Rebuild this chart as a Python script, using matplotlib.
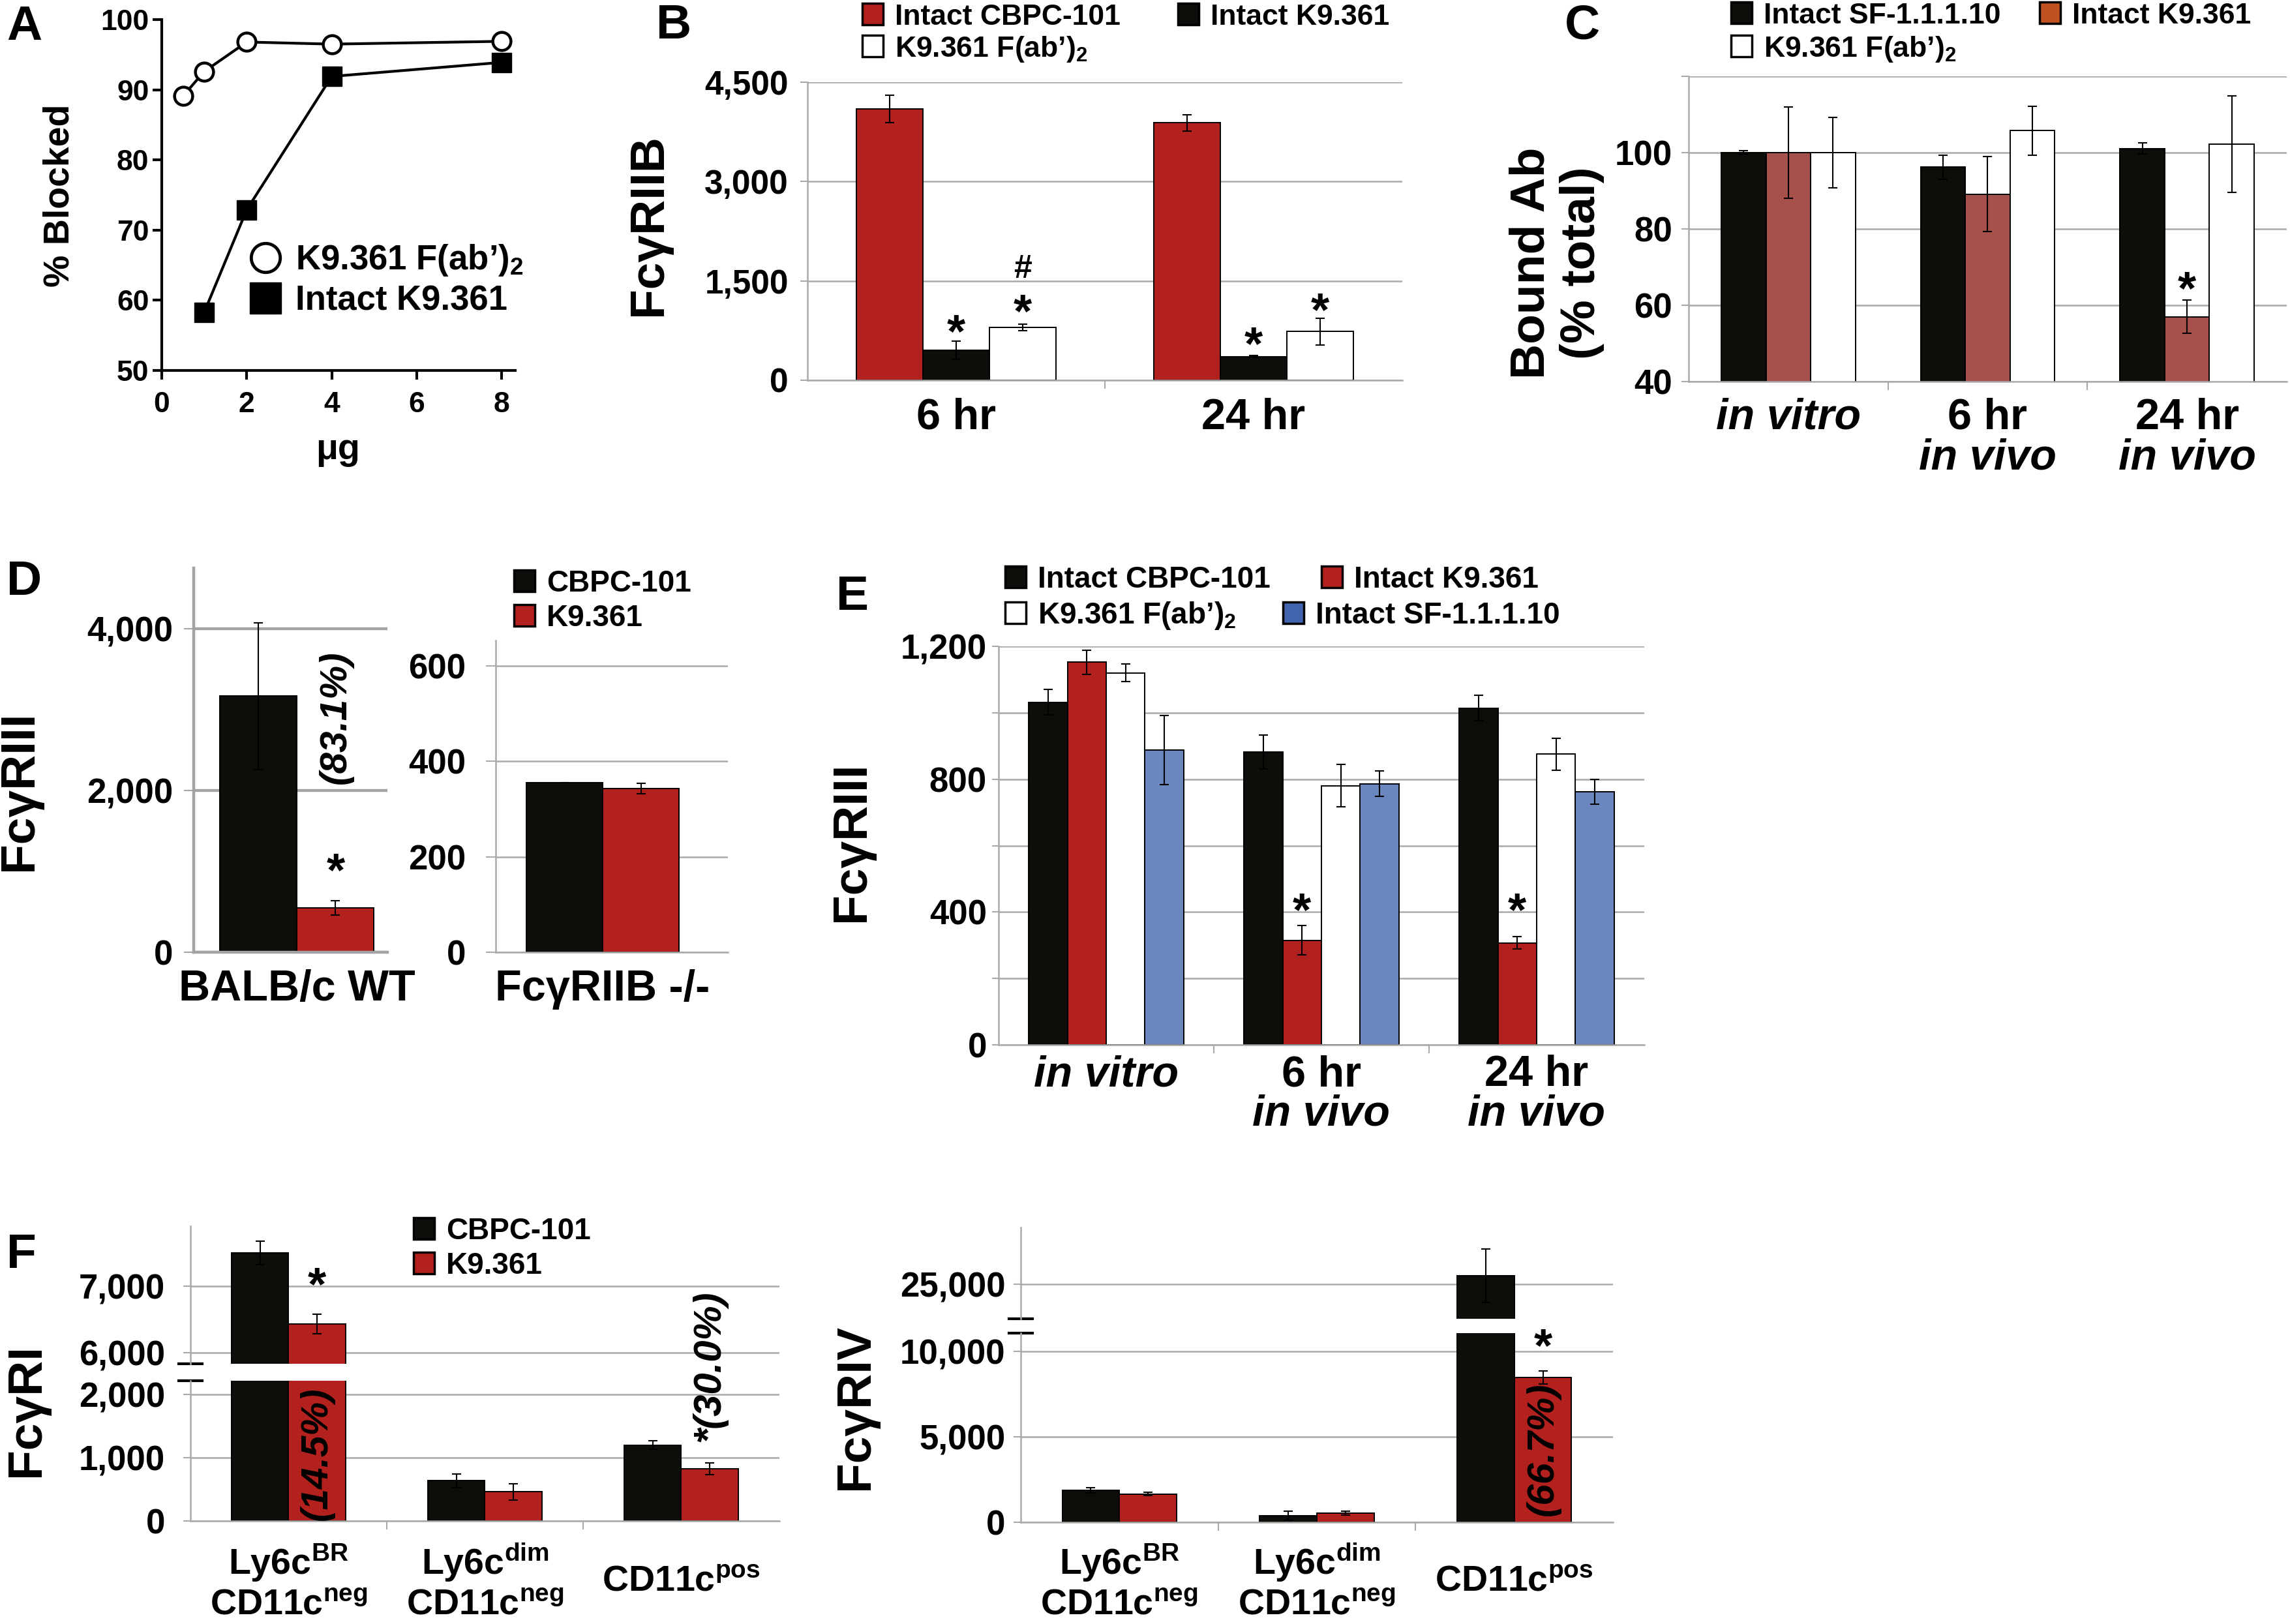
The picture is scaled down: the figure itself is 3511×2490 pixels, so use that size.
import numpy as np
import matplotlib
matplotlib.use('Agg')
import matplotlib.pyplot as plt
from matplotlib.patches import Rectangle
from matplotlib.lines import Line2D
from matplotlib import transforms

W, H = 3512, 2490

plt.rcParams['font.family'] = ['Liberation Sans', 'DejaVu Sans']
plt.rcParams['font.weight'] = 'bold'
plt.rcParams['mathtext.fontset'] = 'custom'
plt.rcParams['mathtext.rm'] = 'Liberation Sans:bold'
plt.rcParams['mathtext.bf'] = 'Liberation Sans:bold'
plt.rcParams['mathtext.it'] = 'Liberation Sans:bold:italic'

RED = '#B2211D'
BLK = '#0D0D0A'
WHT = '#FFFFFF'
BLUE = '#6C86C0'
BRN = '#A6514C'
GRID = '#A9A9A9'

FAB = 'K9.361 F(ab\u2019)$_{\\mathbf{2}}$'

# ---- A: % blocked vs amount
a_x_fab = [0.5, 1, 2, 4, 8]
a_y_fab = [89.1, 92.6, 96.8, 96.5, 96.9]
a_x_int = [1, 2, 4, 8]
a_y_int = [58.3, 72.9, 91.9, 93.9]

# ---- B: FcgRIIB
b_cats = ['6 hr', '24 hr']
b_cbpc = [4095, 3886]
b_cbpc_err = [210, 120]
b_k9 = [451, 358]
b_k9_err = [140, 15]
b_fab = [800, 735]
b_fab_err = [50, 205]

# ---- C: bound Ab (% total)
c_line1 = ['in vitro', '6 hr', '24 hr']
c_line2 = ['', 'in vivo', 'in vivo']
c_sf = [100, 96.2, 101.1]
c_sf_err = [0.5, 3.2, 1.5]
c_k9 = [100, 89.1, 57.0]
c_k9_err = [12, 9.8, 4.3]
c_fab = [100, 105.8, 102.2]
c_fab_err = [9.3, 6.4, 12.7]

# ---- D: FcgRIII, WT vs FcgRIIB-/-
d_cats = ['BALB/c WT', 'Fc\u03b3RIIB -/-']
d_cbpc = [3165, 355]
d_cbpc_err = [905, 0]
d_k9 = [547, 343]
d_k9_err = [86, 11]

# ---- E: FcgRIII
e_line1 = ['in vitro', '6 hr', '24 hr']
e_line2 = ['', 'in vivo', 'in vivo']
e_cbpc = [1032, 881, 1014]
e_cbpc_err = [39, 51, 38]
e_k9 = [1152, 315, 307]
e_k9_err = [36, 44, 19]
e_fab = [1120, 780, 875]
e_fab_err = [27, 64, 49]
e_sf = [887, 786, 762]
e_sf_err = [104, 38, 38]

# ---- F: FcgRI and FcgRIV
f_line1 = ['Ly6c$^{\\mathbf{BR}}$', 'Ly6c$^{\\mathbf{dim}}$', 'CD11c$^{\\mathbf{pos}}$']
f_line2 = ['CD11c$^{\\mathbf{neg}}$', 'CD11c$^{\\mathbf{neg}}$', '']
f1_cbpc = [7492, 636, 1197]
f1_cbpc_err = [175, 110, 66]
f1_k9 = [6429, 461, 825]
f1_k9_err = [150, 130, 90]
f4_cbpc = [1873, 375, 25489]
f4_cbpc_err = [160, 275, 1560]
f4_k9 = [1661, 537, 8469]
f4_k9_err = [80, 120, 375]

fig = plt.figure(figsize=(W / 100, H / 100), dpi=100)


def box(l, t, r, b):
    ax = fig.add_axes([l / W, 1 - b / H, (r - l) / W, (b - t) / H])
    ax.set_facecolor('none')
    return ax


def ftxt(x, y, s, **kw):
    return fig.text(x / W, 1 - y / H, s, **kw)


def excel(ax, ticks, labels, fs=38, pad=12, tlen=8, glw=1.8, gcol=GRID):
    ax.set_yticks(ticks)
    ax.set_yticklabels(labels)
    ax.tick_params(axis='y', labelsize=fs, pad=pad, length=tlen, width=1.5, color=gcol)
    ax.yaxis.grid(True, color=gcol, lw=glw)
    ax.set_axisbelow(True)
    for s in ('top', 'right'):
        ax.spines[s].set_visible(False)
    for s in ('left', 'bottom'):
        ax.spines[s].set_color(gcol)
        ax.spines[s].set_linewidth(glw)


def seps(ax, n):
    ax.set_xlim(-0.5, n - 0.5)
    ax.set_xticks(np.arange(0.5, n - 1, 1.0))
    ax.tick_params(axis='x', length=9, width=1.5, color=GRID, labelbottom=False)


def bars(ax, series, errs, colors, width, x=None):
    n = len(series)
    x = np.arange(len(series[0])) if x is None else np.asarray(x, float)
    for i, (v, e, c) in enumerate(zip(series, errs, colors)):
        xs = x + (i - (n - 1) / 2) * width
        ax.bar(xs, v, width, color=c, edgecolor='black', linewidth=1.4, zorder=2)
        ax.errorbar(xs, v, yerr=e, fmt='none', ecolor='black', elinewidth=1.5,
                    capsize=5, capthick=1.5, zorder=3)


def star(ax, x, y, s='*', fs=52, k=0.57):
    tr = transforms.offset_copy(ax.transData, fig=fig, y=-k * fs, units='points')
    ax.text(x, y, s, fontsize=fs, ha='center', va='baseline', transform=tr,
            clip_on=False, zorder=5)


def key(x, y, color, label, fs=32, w=32, h=33):
    fig.patches.append(Rectangle((x / W, 1 - (y + h) / H), w / W, h / H,
                                 transform=fig.transFigure, facecolor=color,
                                 edgecolor='black', linewidth=2.5))
    ftxt(x + w + 18, y + h, label, fontsize=fs, ha='left', va='baseline')


def catlabels(ax, lines, baselines, fs=48, styles=None):
    tr = transforms.blended_transform_factory(ax.transData, fig.transFigure)
    for labs, yb in zip(lines, baselines):
        for i, lab in enumerate(labs):
            if not lab:
                continue
            st = styles(lab) if styles is not None else 'normal'
            ax.text(i, 1 - yb / H, lab, transform=tr, ha='center', va='baseline',
                    fontsize=fs, style=st)


def italic_if_vivo(lab):
    return 'italic' if lab.startswith('in ') else 'normal'


# ================= Panel A =================
axA = box(248, 30, 790, 568)
axA.plot(a_x_fab, a_y_fab, '-o', color='black', lw=3, ms=20, mfc='white',
         mec='black', mew=3.2, clip_on=False, zorder=3)
axA.plot(a_x_int, a_y_int, '-s', color='black', lw=3, ms=22, mfc='black',
         mec='black', mew=1, clip_on=False, zorder=3)
axA.set_xlim(0, 8.32)
axA.set_ylim(50, 100)
axA.set_xticks([0, 2, 4, 6, 8])
axA.set_yticks(range(50, 101, 10))
for s in ('top', 'right'):
    axA.spines[s].set_visible(False)
for s in ('left', 'bottom'):
    axA.spines[s].set_linewidth(3)
axA.tick_params(length=10, width=3, labelsize=32)
axA.tick_params(axis='x', pad=13)
axA.tick_params(axis='y', pad=4)
hA = [Line2D([], [], ls='none', marker='o', ms=32, mfc='white', mec='black', mew=3.5),
      Line2D([], [], ls='none', marker='s', ms=34, mfc='black', mec='black')]
axA.legend(hA, [FAB, 'Intact K9.361'], loc='upper left',
           bbox_to_anchor=(383 / W, 1 - 372 / H), bbox_transform=fig.transFigure,
           frameon=False, fontsize=38, handlelength=0.9, handletextpad=0.42,
           borderpad=0, borderaxespad=0, labelspacing=0.2)
ftxt(92, 300, '% Blocked', fontsize=40, rotation=90, ha='center', va='center')
ftxt(518, 690, '\u03bcg', fontsize=40, ha='center', va='center')
ftxt(37, 61, 'A', fontsize=54, ha='center', va='baseline')

# ================= Panel B =================
axB = box(1238, 126, 2150, 583)
axB.set_ylim(0, 4500)
excel(axB, [0, 1500, 3000, 4500], ['0', '1,500', '3,000', '4,500'], fs=37, pad=13, tlen=8)
seps(axB, 2)
bars(axB, [b_cbpc, b_k9, b_fab], [b_cbpc_err, b_k9_err, b_fab_err], [RED, BLK, WHT], 0.224)
star(axB, 0, 907)
star(axB, 0.224, 1210)
star(axB, 0.224, 1722, s='#', fs=36, k=0.36)
star(axB, 1, 721)
star(axB, 1.224, 1233)
catlabels(axB, [b_cats], [658], fs=48)
ftxt(995, 345, 'Fc\u03b3RIIB', fontsize=54, rotation=90, ha='center', va='center')
ftxt(1033, 59, 'B', fontsize=54, ha='center', va='baseline')
key(1322, 5, RED, 'Intact CBPC-101')
key(1806, 5, BLK, 'Intact K9.361')
key(1322, 54, WHT, FAB)

# ================= Panel C =================
axC = box(2589, 117, 3506, 585)
axC.set_ylim(40, 120)
excel(axC, [40, 60, 80, 100, 120], ['40', '60', '80', '100', ''], fs=38, pad=10, tlen=8)
seps(axC, 3)
bars(axC, [c_sf, c_k9, c_fab], [c_sf_err, c_k9_err, c_fab_err], [BLK, BRN, WHT], 0.224)
star(axC, 2, 67.4)
catlabels(axC, [c_line1, c_line2], [658, 720], fs=48, styles=italic_if_vivo)
ftxt(2387, 403, 'Bound Ab\n(% total)', fontsize=54, rotation=90, ha='center',
     va='center', linespacing=1.15)
ftxt(2426, 59, 'C', fontsize=54, ha='center', va='baseline')
key(2654, 3, BLK, 'Intact SF-1.1.1.10')
key(3127, 3, '#BF501F', 'Intact K9.361')
key(2654, 54, WHT, FAB)

# ================= Panel D =================
axD1 = box(297, 871, 594, 1460)
axD1.set_ylim(0, 4748)
excel(axD1, [0, 2000, 4000], ['0', '2,000', '4,000'], fs=38, pad=12, tlen=11,
      glw=3.2, gcol='#A3A3A3')
axD1.set_xlim(-0.532, 0.468)
axD1.set_xticks([])
bars(axD1, [d_cbpc[:1], d_k9[:1]], [d_cbpc_err[:1], d_k9_err[:1]], [BLK, RED], 0.397)
star(axD1, 0.2, 1153)
axD1.text(0.2, 2903, '(83.1%)', rotation=90, style='italic', fontsize=42,
          ha='center', va='center', zorder=5)

axD2 = box(760, 982, 1116, 1460)
axD2.set_ylim(0, 653)
excel(axD2, [0, 200, 400, 600], ['0', '200', '400', '600'], fs=38, pad=22, tlen=11)
axD2.set_xlim(-0.461, 0.539)
axD2.set_xticks([])
bars(axD2, [d_cbpc[1:], d_k9[1:]], [d_cbpc_err[1:], d_k9_err[1:]], [BLK, RED], 0.329)
for axd, lab in ((axD1, d_cats[0]), (axD2, d_cats[1])):
    tr = transforms.blended_transform_factory(axd.transData, fig.transFigure)
    axd.text(0, 1 - 1534 / H, lab, transform=tr, ha='center', va='baseline', fontsize=48)
ftxt(30, 1212, 'Fc\u03b3RIII', fontsize=54, rotation=90, ha='center', va='center')
ftxt(37, 912, 'D', fontsize=54, ha='center', va='baseline')
key(788, 874, BLK, 'CBPC-101', fs=33)
key(788, 927, RED, 'K9.361', fs=33)

# ================= Panel E =================
axE = box(1531, 991, 2521, 1602)
axE.set_ylim(0, 1200)
excel(axE, [0, 200, 400, 600, 800, 1000, 1200],
      ['0', '', '400', '', '800', '', '1,200'], fs=38, pad=6, tlen=7)
seps(axE, 3)
bars(axE, [e_cbpc, e_k9, e_fab, e_sf], [e_cbpc_err, e_k9_err, e_fab_err, e_sf_err],
     [BLK, RED, WHT, BLUE], 0.18)
star(axE, 1 - 0.09, 440)
star(axE, 2 - 0.09, 440)
catlabels(axE, [e_line1, e_line2], [1665, 1726], fs=48, styles=italic_if_vivo)
ftxt(1306, 1290, 'Fc\u03b3RIII', fontsize=54, rotation=90, ha='center', va='center')
ftxt(1307, 935, 'E', fontsize=54, ha='center', va='baseline')
key(1541, 868, BLK, 'Intact CBPC-101', fs=33)
key(2026, 868, RED, 'Intact K9.361', fs=33)
key(1541, 923, WHT, FAB, fs=33)
key(1967, 923, '#4263AE', 'Intact SF-1.1.1.10', fs=33)


# ================= Panel F =================
def broken(l, r, up, lo, lim_up, lim_lo, t_up, t_lo, l_up, l_lo, pad, vals, errs):
    a_up = box(l, up[0], r, up[1])
    a_lo = box(l, lo[0], r, lo[1])
    a_up.set_ylim(*lim_up)
    a_lo.set_ylim(*lim_lo)
    excel(a_up, t_up, l_up, fs=38, pad=pad, tlen=8)
    excel(a_lo, t_lo, l_lo, fs=38, pad=pad, tlen=8)
    a_up.spines['bottom'].set_visible(False)
    a_up.set_xlim(-0.5, 2.5)
    a_up.set_xticks([])
    seps(a_lo, 3)
    for a in (a_up, a_lo):
        bars(a, vals, errs, [BLK, RED], 0.29)
    a_up.plot([-0.02, 0.02], [0, 0], transform=a_up.transAxes, color='black', lw=3,
              clip_on=False)
    a_lo.plot([-0.02, 0.02], [1, 1], transform=a_lo.transAxes, color='black', lw=3,
              clip_on=False)
    catlabels(a_lo, [f_line1[:2], f_line2[:2]], [2414, 2476], fs=40)
    tr = transforms.blended_transform_factory(a_lo.transData, fig.transFigure)
    a_lo.text(2, 1 - 2440 / H, f_line1[2], transform=tr, ha='center', va='baseline',
              fontsize=40)
    return a_up, a_lo


f1_up, f1_lo = broken(292, 1195, (1880, 2091), (2117, 2332), (5833, 7896), (0, 2215),
                      [6000, 7000], [0, 1000, 2000], ['6,000', '7,000'],
                      ['0', '1,000', '2,000'], 20,
                      [f1_cbpc, f1_k9], [f1_cbpc_err, f1_k9_err])
star(f1_up, 0.145, 7196)
f1_lo.text(0.145, 1068, '(14.5%)', rotation=90, style='italic', fontsize=42,
           ha='center', va='center', zorder=5)
f1_lo.text(2.145, 2443, '*(30.0%)', rotation=90, style='italic', fontsize=43,
           ha='center', va='center', zorder=5, clip_on=False)
ftxt(41, 2162, 'Fc\u03b3RI', fontsize=54, rotation=90, ha='center', va='center')
ftxt(33, 1944, 'F', fontsize=54, ha='center', va='baseline')
key(634, 1867, BLK, 'CBPC-101', fs=33)
key(634, 1920, RED, 'K9.361', fs=33)

f4_up, f4_lo = broken(1565, 2473, (1882, 2022), (2044, 2334), (22980, 28300), (0, 11075),
                      [25000], [0, 5000, 10000], ['25,000'],
                      ['0', '5,000', '10,000'], 9,
                      [f4_cbpc, f4_k9], [f4_cbpc_err, f4_k9_err])
star(f4_lo, 2.145, 10992)
f4_lo.text(2.145, 4275, '(66.7%)', rotation=90, style='italic', fontsize=42,
           ha='center', va='center', zorder=5)
ftxt(1312, 2157, 'Fc\u03b3RIV', fontsize=54, rotation=90, ha='center', va='center')

fig.savefig('out.png', dpi=100)
